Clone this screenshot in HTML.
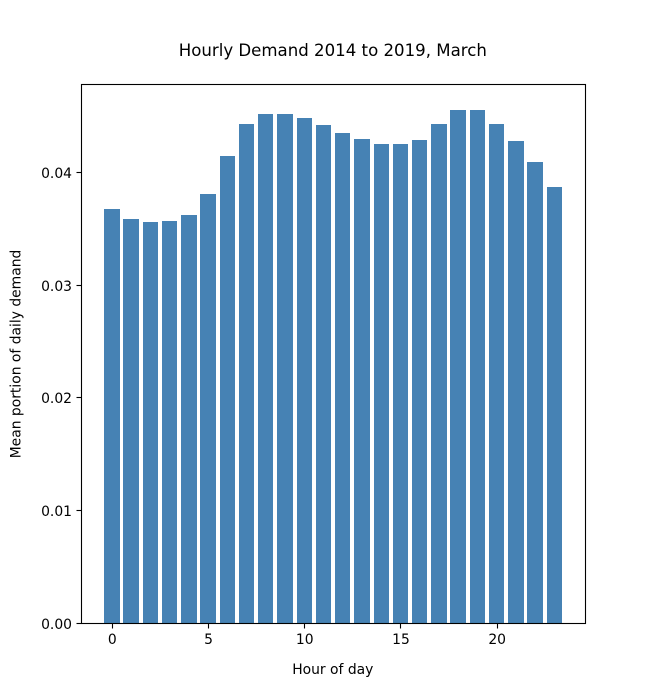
<!DOCTYPE html>
<html>
<head>
<meta charset="utf-8">
<title>Hourly Demand 2014 to 2019, March</title>
<style>
html,body{margin:0;padding:0;background:#fff;width:650px;height:700px;overflow:hidden}
svg{display:block}
text{font-family:"DejaVu Sans",sans-serif;fill:#000}
</style>
</head>
<body>
<svg id="chart" xmlns="http://www.w3.org/2000/svg" width="650" height="700" viewBox="0 0 650 700">
  <rect x="0" y="0" width="650" height="700" fill="#ffffff"/>
  <text x="332.8" y="56" text-anchor="middle" font-size="16.6">Hourly Demand 2014 to 2019, March</text>
  <text x="332.8" y="674" text-anchor="middle" font-size="13.89">Hour of day</text>
  <text transform="translate(20.5,354) rotate(-90)" text-anchor="middle" font-size="13.89">Mean portion of daily demand</text>
  <g id="bars"></g>
  <g id="xticks"></g>
  <g id="yticks"></g>
  <rect x="81.5" y="84.5" width="504" height="539" fill="none" stroke="#000" stroke-width="1.1"/>
</svg>
<script>
const hours = [0,1,2,3,4,5,6,7,8,9,10,11,12,13,14,15,16,17,18,19,20,21,22,23];
const demand = [0.03672,0.03583,0.03557,0.03565,0.03619,0.03805,0.04142,0.04426,0.04514,0.04514,0.04479,0.04417,0.04346,0.04293,0.04248,0.04248,0.04284,0.04426,0.0455,0.0455,0.04426,0.04275,0.04089,0.03867];
const xTickValues = [0,5,10,15,20];
const yTickValues = [0,0.01,0.02,0.03,0.04];
const yTickLabels = ["0.00","0.01","0.02","0.03","0.04"];

const NS = "http://www.w3.org/2000/svg";
const plot = {left:81.25,right:585,top:84,bottom:623};
const barWidth = 0.8;
const xMin = -1.59, xMax = 24.59, yMax = 0.04778;
function xScale(v){ return plot.left + (v - xMin) / (xMax - xMin) * (plot.right - plot.left); }
function yScale(v){ return plot.bottom - v / yMax * (plot.bottom - plot.top); }
function make(tag, attrs){
  const el = document.createElementNS(NS, tag);
  for (const k in attrs) el.setAttribute(k, attrs[k]);
  return el;
}

const barsGroup = document.getElementById('bars');
hours.forEach(function(h, i){
  const x0 = Math.round(xScale(h - barWidth / 2));
  const x1 = Math.round(xScale(h + barWidth / 2));
  const y0 = Math.round(yScale(demand[i]));
  const bar = make('rect', {x:x0, y:y0, width:x1 - x0, height:plot.bottom - y0, fill:'#4682b4'});
  
  
  barsGroup.appendChild(bar);
});

const xGroup = document.getElementById('xticks');
xTickValues.forEach(function(v){
  const px = Math.round(xScale(v)) + 0.5;
  const tick = make('line', {x1:px, x2:px, y1:623.5, y2:628.5, stroke:'#000', 'stroke-width':1.1});
  
  
  xGroup.appendChild(tick);
  const label = make('text', {x:xScale(v) + 0.5, y:644, 'text-anchor':'middle', 'font-size':13.89});
  
  
  label.textContent = String(v);
  xGroup.appendChild(label);
});

const yGroup = document.getElementById('yticks');
yTickValues.forEach(function(v, i){
  const py = Math.round(yScale(v)) + 0.5;
  const tick = make('line', {x1:76.5, x2:81.5, y1:py, y2:py, stroke:'#000', 'stroke-width':1.1});
  
  
  yGroup.appendChild(tick);
  const label = make('text', {x:72, y:Math.round(yScale(v)) + 6, 'text-anchor':'end', 'font-size':13.89});
  
  
  label.textContent = yTickLabels[i];
  yGroup.appendChild(label);
});
</script>
</body>
</html>
